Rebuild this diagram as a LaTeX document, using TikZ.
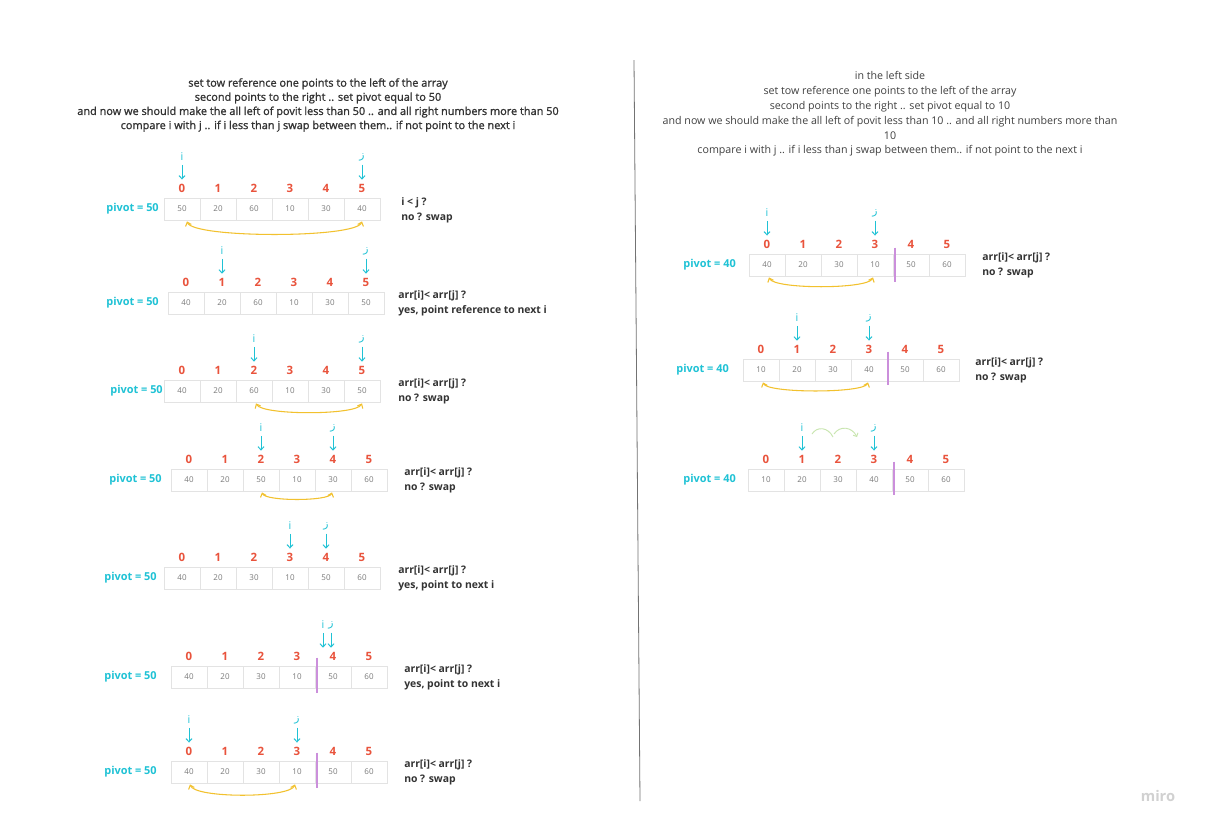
\documentclass[tikz,border=0pt]{standalone}
\usepackage{fontspec}
\setmainfont{Open Sans}
\newfontfamily\arabicfont[Script=Arabic]{DejaVu Sans}
\newfontfamily\titlefont[FakeBold=1.3]{Open Sans}
\TeXXeTstate=1
\usetikzlibrary{arrows.meta,calc}
\definecolor{cyanc}{HTML}{1FC2D5}
\definecolor{idxred}{HTML}{E9533C}
\definecolor{swapy}{HTML}{F2C12E}
\definecolor{purp}{HTML}{CB8FDB}
\definecolor{cellb}{HTML}{E3E3E3}
\definecolor{celltx}{HTML}{7A7A7A}
\definecolor{notetx}{HTML}{333333}
\definecolor{greenarc}{HTML}{C9E6B0}
\newcommand\jglyph{{\arabicfont\beginR ز\endR}}
\tikzset{
  cell/.style={draw=cellb, line width=0.6pt, minimum width=27pt, minimum height=16.5pt, inner sep=0pt,
    font=\fontsize{6pt}{7pt}\selectfont, text=celltx},
  idx/.style={font=\fontsize{8.6pt}{10pt}\selectfont\bfseries, text=idxred, inner sep=0pt},
  piv/.style={font=\fontsize{8.2pt}{10pt}\selectfont\bfseries, text=cyanc, inner sep=0pt, anchor=east},
  ptr/.style={font=\fontsize{8pt}{9pt}\selectfont, text=cyanc, inner sep=0.5pt},
  ptrarr/.style={draw=cyanc, line width=0.75pt, -{Straight Barb[length=2.4pt,width=4.5pt]}},
  swapc/.style={draw=swapy, line width=0.8pt, {Straight Barb[length=2.6pt,width=4.5pt]}-{Straight Barb[length=2.6pt,width=4.5pt]}},
  divp/.style={draw=purp, line width=1.5pt},
  note/.style={font=\fontsize{7.8pt}{11.2pt}\selectfont\bfseries, text=notetx, align=left, anchor=west, inner sep=0pt},
  ttl/.style={text=notetx, align=center, inner sep=0pt},
}
% #1 name, #2 left x, #3 top y, #4 values, #5 pivot text, #6 pivot right x
\newcommand\ArrRow[6]{%
  \foreach \v [count=\k from 0] in {#4} {
    \node[cell] (#1c\k) at ({#2+\k*36+18},{#3+11}) {\v};
    \node[idx] (#1n\k) at ({#2+\k*36+18},{#3-10}) {\k};
  }
  \node[piv] (#1p) at (#6,{#3+11}) {#5};
}
% #1 node name, #2 label, #3 index node, #4 x offset
\newcommand\Ptr[4]{%
  \node[ptr] (#1) at ($(#3)+(#4,-31)$) {#2};
  \coordinate (#1t) at ($(#3.north)+(0,-4)$);
  \draw[ptrarr] ($(#1.south)+(0,3)$) -- (#1.south |- #1t);
}
\begin{document}
\begin{tikzpicture}[x=0.75pt,y=-0.75pt]
\useasboundingbox (0,0) rectangle (1205,829);
\fill[white] (0,0) rectangle (1205,829);

% titles
\node[ttl, font=\titlefont\fontsize{8.2pt}{10.6pt}\selectfont] (t1) at (318,105)
 {set tow reference one points to the left of the array\\
  second points to the right .. set pivot equal to 50\\
  and now we should make the all left of povit less than 50 .. and all right numbers more than 50\\
  compare i with j .. if i less than j swap between them.. if not point to the next i};
\node[ttl, font=\fontsize{8pt}{11.1pt}\selectfont, text=black!75] (t2) at (890,114)
 {in the left side\\
  set tow reference one points to the left of the array\\
  second points to the right .. set pivot equal to 10\\
  and now we should make the all left of povit less than 10 .. and all right numbers more than\\
  10\\
  compare i with j .. if i less than j swap between them.. if not point to the next i};

% divider
\coordinate (d1) at (634,60);
\coordinate (d2) at (640,801);
\draw[draw=black!55, line width=0.6pt] (d1) -- (d2);

% ---- L1
\ArrRow{La}{164}{198}{50,20,60,10,30,40}{pivot = 50}{159}
\Ptr{Lai}{i}{Lan0}{0}
\Ptr{Laj}{\jglyph}{Lan5}{0}
\draw[swapc] ($(Lac0.south)+(5,1)$) .. controls +(6,17) and +(-6,17) .. ($(Lac5.south)+(0,1)$);
\node[note] (Lat) at (401,210) {i < j ?\\no ? swap};

% ---- L2
\ArrRow{Lb}{168}{292}{40,20,60,10,30,50}{pivot = 50}{159}
\Ptr{Lbi}{i}{Lbn1}{0}
\Ptr{Lbj}{\jglyph}{Lbn5}{0}
\node[note] (Lbt) at (398,303) {arr[i]< arr[j] ?\\yes, point reference to next i};

% ---- L3
\ArrRow{Lc}{164}{380}{40,20,60,10,30,50}{pivot = 50}{163}
\Ptr{Lci}{i}{Lcn2}{0}
\Ptr{Lcj}{\jglyph}{Lcn5}{0}
\draw[swapc] ($(Lcc2.south)+(2,1)$) .. controls +(6,12) and +(-6,12) .. ($(Lcc5.south)+(0,1)$);
\node[note] (Lct) at (398,391) {arr[i]< arr[j] ?\\no ? swap};

% ---- L4
\ArrRow{Ld}{171}{469}{40,20,50,10,30,60}{pivot = 50}{162}
\Ptr{Ldi}{i}{Ldn2}{0}
\Ptr{Ldj}{\jglyph}{Ldn4}{0}
\draw[swapc] ($(Ldc2.south)+(1,1)$) .. controls +(3,9) and +(-3,9) .. ($(Ldc4.south)+(-1,1)$);
\node[note] (Ldt) at (404,480) {arr[i]< arr[j] ?\\no ? swap};

% ---- L5
\ArrRow{Le}{164}{567}{40,20,30,10,50,60}{pivot = 50}{157}
\Ptr{Lei}{i}{Len3}{0}
\Ptr{Lej}{\jglyph}{Len4}{0}
\node[note] (Let) at (398,578) {arr[i]< arr[j] ?\\yes, point to next i};

% ---- L6
\ArrRow{Lf}{171}{666}{40,20,30,10,50,60}{pivot = 50}{157}
\Ptr{Lfi}{i}{Lfn4}{-10}
\Ptr{Lfj}{\jglyph}{Lfn4}{-2}
\draw[divp] ($(Lfc3.north east)+(2,-8)$) -- ($(Lfc3.south east)+(2,5)$);
\node[note] (Lft) at (404,677) {arr[i]< arr[j] ?\\yes, point to next i};

% ---- L7
\ArrRow{Lg}{171}{761}{40,20,30,10,50,60}{pivot = 50}{157}
\Ptr{Lgi}{i}{Lgn0}{0}
\Ptr{Lgj}{\jglyph}{Lgn3}{0}
\draw[divp] ($(Lgc3.north east)+(2,-8)$) -- ($(Lgc3.south east)+(2,5)$);
\draw[swapc] ($(Lgc0.south)+(1,1)$) .. controls +(5,14) and +(-5,14) .. ($(Lgc3.south)+(-2,1)$);
\node[note] (Lgt) at (404,772) {arr[i]< arr[j] ?\\no ? swap};

% ---- R1
\ArrRow{Ra}{749}{254}{40,20,30,10,50,60}{pivot = 40}{736}
\Ptr{Rai}{i}{Ran0}{0}
\Ptr{Raj}{\jglyph}{Ran3}{0}
\draw[divp] ($(Rac3.north east)+(2,-6)$) -- ($(Rac3.south east)+(2,6)$);
\draw[swapc] ($(Rac0.south)+(2,1)$) .. controls +(5,12) and +(-5,12) .. ($(Rac3.south)+(-2,1)$);
\node[note] (Rat) at (982,265) {arr[i]< arr[j] ?\\no ? swap};

% ---- R2
\ArrRow{Rb}{743}{359}{10,20,30,40,50,60}{pivot = 40}{729}
\Ptr{Rbi}{i}{Rbn1}{0}
\Ptr{Rbj}{\jglyph}{Rbn3}{0}
\draw[divp] ($(Rbc3.north east)+(1,-7)$) -- ($(Rbc3.south east)+(1,4)$);
\draw[swapc] ($(Rbc0.south)+(2,1)$) .. controls +(4,11) and +(-4,11) .. ($(Rbc3.south)+(-1,1)$);
\node[note] (Rbt) at (975,370) {arr[i]< arr[j] ?\\no ? swap};

% ---- R3
\ArrRow{Rc}{748}{469}{10,20,30,40,50,60}{pivot = 40}{736}
\Ptr{Rci}{i}{Rcn1}{0}
\Ptr{Rcj}{\jglyph}{Rcn3}{0}
\draw[divp] ($(Rcc3.north east)+(2,-7)$) -- ($(Rcc3.south east)+(2,4)$);
\draw[draw=greenarc, line width=0.7pt] (812,434) .. controls (817,426) and (828,427) .. (833,437);
\draw[draw=greenarc, line width=0.7pt, -{Straight Barb[length=2pt,width=4pt]}] (834,434) .. controls (840,425) and (852,427) .. (857,437);

% watermark
\node[font=\fontsize{11pt}{12pt}\selectfont\bfseries, text=black!18, inner sep=0pt] (miro) at (1158,796) {miro};
\end{tikzpicture}
\end{document}
